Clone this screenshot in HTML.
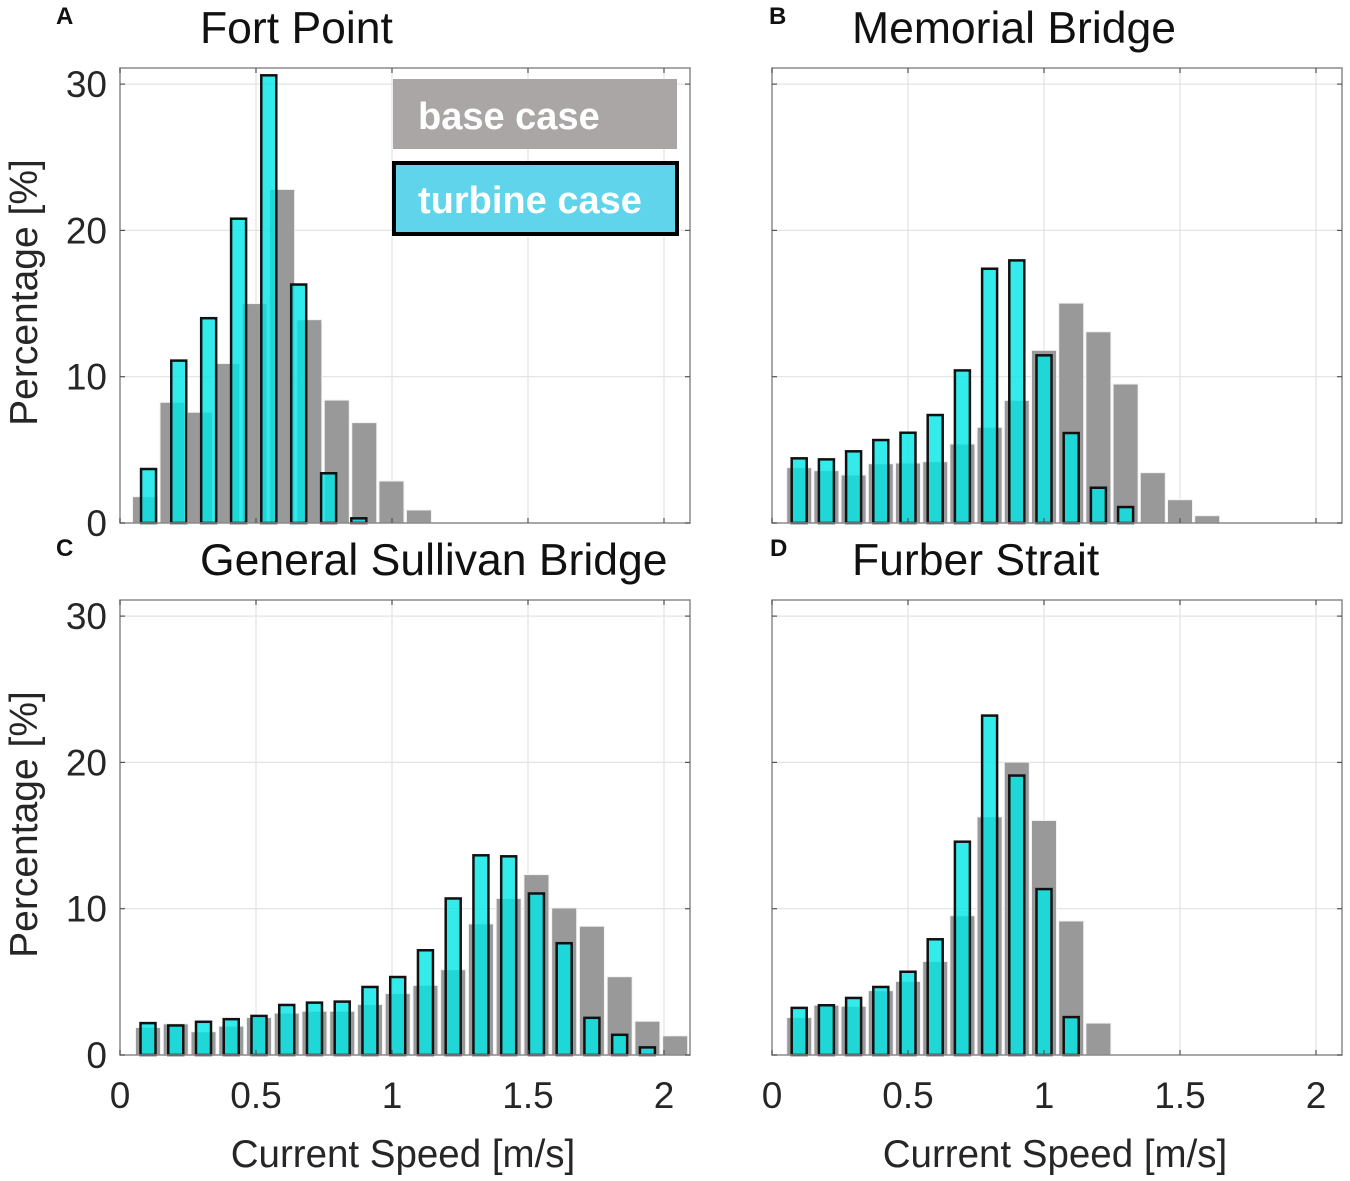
<!DOCTYPE html>
<html><head><meta charset="utf-8"><style>
html,body{margin:0;padding:0;background:#fff;}
svg{display:block;font-family:"Liberation Sans",Arial,sans-serif;}
</style></head><body>
<svg id="chart" width="1350" height="1181" viewBox="0 0 1350 1181"></svg>
<script>
// ---- data (percentages) ----
const aBaseX=[0.092,0.193,0.294,0.394,0.495,0.596,0.696,0.797,0.898,0.998,1.099];
const aBase=[1.8,8.25,7.57,10.9,15.0,22.8,13.9,8.4,6.86,2.87,0.89];
const aTurbX=[0.105,0.216,0.326,0.436,0.547,0.657,0.767,0.878];
const aTurb=[3.69,11.1,14.0,20.8,30.6,16.3,3.4,0.32];

const bBaseX=[0.1,0.2,0.3,0.4,0.5,0.6,0.7,0.8,0.9,1.0,1.1,1.2,1.3,1.4,1.5,1.6];
const bBase=[3.78,3.58,3.28,4.05,4.1,4.19,5.4,6.54,8.38,11.8,15.03,13.07,9.5,3.44,1.59,0.5];
const bTurbX=[0.1,0.2,0.3,0.4,0.5,0.6,0.7,0.8,0.9,1.0,1.1,1.2,1.3];
const bTurb=[4.42,4.35,4.9,5.67,6.17,7.38,10.43,17.38,17.95,11.46,6.15,2.41,1.09];

const cBaseX=[0.103,0.205,0.307,0.409,0.511,0.613,0.715,0.817,0.919,1.021,1.123,1.225,1.327,1.429,1.531,1.633,1.735,1.837,1.939,2.041];
const cBase=[1.88,2.13,1.59,1.97,2.56,2.86,2.99,2.99,3.45,4.2,4.76,5.83,8.96,10.7,12.33,10.05,8.8,5.35,2.31,1.31];
const cTurbX=[0.103,0.205,0.307,0.409,0.511,0.613,0.715,0.817,0.919,1.021,1.123,1.225,1.327,1.429,1.531,1.633,1.735,1.837,1.939];
const cTurb=[2.18,2.02,2.27,2.45,2.67,3.42,3.58,3.65,4.65,5.33,7.16,10.7,13.65,13.58,11.04,7.64,2.54,1.38,0.52];

const dBaseX=[0.1,0.2,0.3,0.4,0.5,0.6,0.7,0.8,0.9,1.0,1.1,1.2];
const dBase=[2.56,3.4,3.33,4.4,5.03,6.39,9.52,16.28,20.02,16.03,9.16,2.18];
const dTurbX=[0.1,0.2,0.3,0.4,0.5,0.6,0.7,0.8,0.9,1.0,1.1];
const dTurb=[3.22,3.4,3.9,4.65,5.69,7.91,14.58,23.2,19.1,11.34,2.59];

const xTicks=[0,0.5,1,1.5,2];
const xTickLabels=["0","0.5","1","1.5","2"];
const yTicks=[0,10,20,30];
const yTickLabels=["0","10","20","30"];

const NS="http://www.w3.org/2000/svg";
const svg=document.getElementById('chart');
function mk(tag,attrs,parent){const e=document.createElementNS(NS,tag);for(const k in attrs)e.setAttribute(k,attrs[k]);(parent||svg).appendChild(e);return e;}

const panels=[
 {id:'a',letter:'A',lx:56,title:'Fort Point',x0:120,x1:690,yTop:68,yBot:523,bx:aBaseX,bv:aBase,tx:aTurbX,tv:aTurb,ylab:true,xlab:false},
 {id:'b',letter:'B',lx:769,title:'Memorial Bridge',x0:772,x1:1342,yTop:68,yBot:523,bx:bBaseX,bv:bBase,tx:bTurbX,tv:bTurb,ylab:false,xlab:false},
 {id:'c',letter:'C',lx:56,title:'General Sullivan Bridge',x0:120,x1:690,yTop:600,yBot:1055,bx:cBaseX,bv:cBase,tx:cTurbX,tv:cTurb,ylab:true,xlab:true},
 {id:'d',letter:'D',lx:770,title:'Furber Strait',x0:772,x1:1342,yTop:600,yBot:1055,bx:dBaseX,bv:dBase,tx:dTurbX,tv:dTurb,ylab:false,xlab:true}
];

panels.forEach(p=>{
  const g=mk('g',{});
  
  
  const X=v=>p.x0+v*272;
  const Y=v=>p.yBot-v*(p.yBot-p.yTop)/31.1;
  xTicks.forEach(t=>{ if(t>0){const l=mk('line',{x1:X(t),x2:X(t),y1:p.yTop,y2:p.yBot,stroke:'#e3e3e3','stroke-width':1.2},g);
    }});
  yTicks.forEach(t=>{ if(t>0){const l=mk('line',{x1:p.x0,x2:p.x1,y1:Y(t),y2:Y(t),stroke:'#e3e3e3','stroke-width':1.2},g);
    }});
  p.bx.forEach((c,i)=>{const h=p.bv[i];const r=mk('rect',{x:X(c)-12.5,y:Y(h),width:25,height:p.yBot-Y(h),fill:'#999999',stroke:'#f2f2f2','stroke-width':1},g);
    });
  p.tx.forEach((c,i)=>{const h=p.tv[i];const r=mk('rect',{x:X(c)-7.5,y:Y(h),width:15,height:p.yBot-Y(h),fill:'rgba(0,230,230,0.8)',stroke:'#111','stroke-width':2.5},g);
    });
  const b=mk('rect',{x:p.x0,y:p.yTop,width:p.x1-p.x0,height:p.yBot-p.yTop,fill:'none',stroke:'#8a8a8a','stroke-width':1.5},g);
  
  xTicks.forEach(t=>{mk('line',{x1:X(t),x2:X(t),y1:p.yBot,y2:p.yBot-5,stroke:'#555','stroke-width':1.2},g);mk('line',{x1:X(t),x2:X(t),y1:p.yTop,y2:p.yTop+5,stroke:'#555','stroke-width':1.2},g);});
  yTicks.forEach(t=>{mk('line',{x1:p.x0,x2:p.x0+5,y1:Y(t),y2:Y(t),stroke:'#555','stroke-width':1.2},g);mk('line',{x1:p.x1,x2:p.x1-5,y1:Y(t),y2:Y(t),stroke:'#555','stroke-width':1.2},g);});
  if(p.ylab){yTicks.forEach((t,i)=>{const tx=mk('text',{x:p.x0-13,y:Y(t)+13,'text-anchor':'end','font-size':37,fill:'#262626'},g);tx.textContent=yTickLabels[i];
    });
    const yl=mk('text',{x:0,y:0,transform:`translate(37,${(p.yTop+p.yBot)/2-3}) rotate(-90)`,'text-anchor':'middle','font-size':39,fill:'#262626'},g);
    yl.textContent='Percentage [%]';}
  if(p.xlab){xTicks.forEach((t,i)=>{const tx=mk('text',{x:X(t),y:p.yBot+53,'text-anchor':'middle','font-size':37,fill:'#262626'},g);tx.textContent=xTickLabels[i];
    });
    const xl=mk('text',{x:(p.x0+p.x1)/2-2,y:p.yBot+112,'text-anchor':'middle','font-size':38.5,fill:'#262626'},g);
    xl.textContent='Current Speed [m/s]';}
  const ti=mk('text',{x:p.x0+80,y:p.yTop-25,'font-size':44.5,fill:'#111'},g);ti.textContent=p.title;
  
  const le=mk('text',{x:p.lx,y:p.yTop-44,'font-size':24,'font-weight':'bold',fill:'#111'},g);le.textContent=p.letter;
  
});
const lg=mk('g',{});


const l1=mk('rect',{x:393,y:79,width:284,height:70,fill:'#aaa6a5'},lg);

const t1=mk('text',{x:418,y:129,'font-size':38,'font-weight':'bold',fill:'#fff'},lg);t1.textContent='base case';

const l2=mk('rect',{x:394,y:163,width:283,height:71,fill:'#5fd4eb',stroke:'#000','stroke-width':4},lg);

const t2=mk('text',{x:418,y:213,'font-size':38,'font-weight':'bold',fill:'#fff'},lg);t2.textContent='turbine case';

</script>
</body></html>
